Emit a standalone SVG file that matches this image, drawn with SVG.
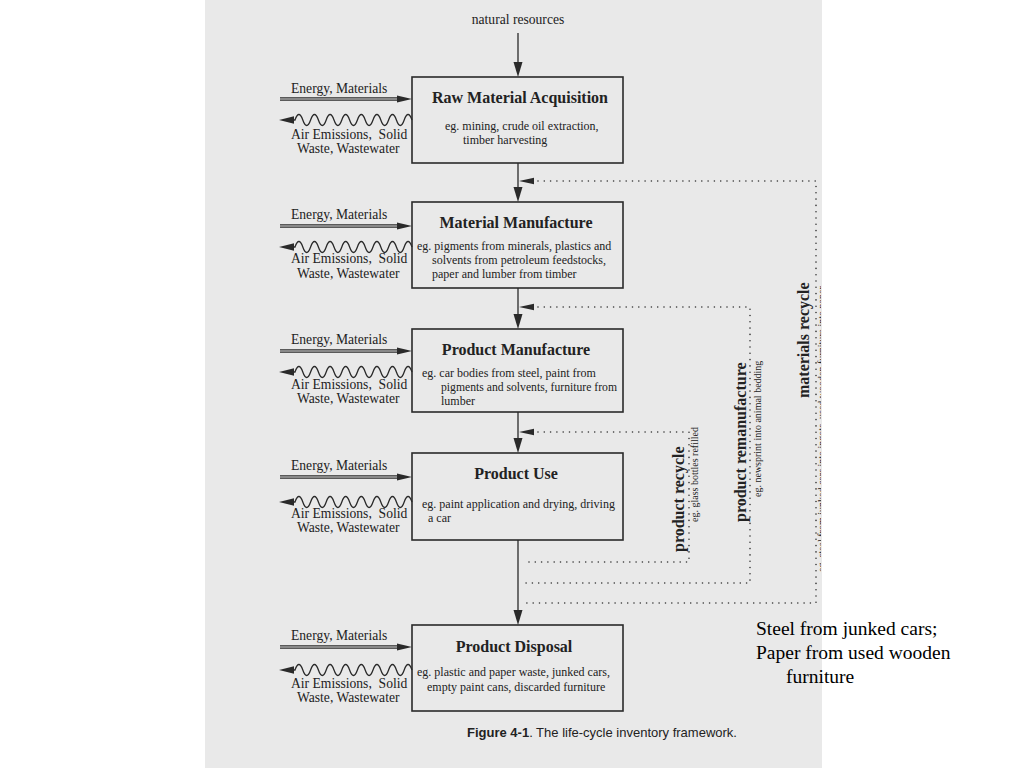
<svg xmlns="http://www.w3.org/2000/svg" width="1024" height="768" viewBox="0 0 1024 768">
<style>
.t{font-family:"Liberation Serif","Times New Roman",serif;fill:#222}
.lab{font-size:13.6px}
.ttl{font-size:16px;font-weight:bold;text-anchor:middle}
.sub{font-size:12px}
.vt{font-size:16px;font-weight:bold}
.vs{font-size:10px}
.box{fill:none;stroke:#2a2a2a;stroke-width:1.6}
.ln{stroke:#2a2a2a;stroke-width:1.3;fill:none}
.dt{stroke:#333;stroke-width:1.6;stroke-linecap:round;stroke-dasharray:0 6.3;fill:none}
.ah{fill:#2a2a2a}
.cap{font-family:"Liberation Sans",Arial,sans-serif;font-size:13px;fill:#222}
.note{font-family:"Liberation Serif","Times New Roman",serif;font-size:19.5px;fill:#000}
</style>
<defs>
<g id="feed">
<line x1="-132" y1="-1.2" x2="-12" y2="-1.2" class="ln" stroke-width="1.1"/>
<line x1="-132" y1="1.2" x2="-12" y2="1.2" class="ln" stroke-width="1.1"/>
<polygon points="0,0 -15,-3.6 -15,3.6" class="ah"/>
</g>
<g id="emit">
<path class="ln" d="M0 0 q-3.9 -11 -7.8 0 t-7.8 0 t-7.8 0 t-7.8 0 t-7.8 0 t-7.8 0 t-7.8 0 t-7.8 0 t-7.8 0 t-7.8 0 t-7.8 0 t-7.8 0 t-7.8 0 t-7.8 0 t-7.8 0 L-125 0"/>
<polygon points="-133,0 -118,-3.8 -118,3.8" class="ah"/>
</g>
<polygon id="dn" points="0,0 -4.5,-15 4.5,-15" class="ah"/>
<polygon id="lf" points="0,0 15,-3.3 15,3.3" class="ah"/>
<clipPath id="pg"><rect x="205" y="0" width="616" height="768"/></clipPath>
</defs>
<rect x="0" y="0" width="1024" height="768" fill="#ffffff"/>
<rect x="205" y="0" width="617" height="768" fill="#e9e9e9"/>

<g id="connectors">
<line class="ln" x1="518" y1="33" x2="518" y2="70"/>
<line class="ln" x1="518" y1="163" x2="518" y2="195"/>
<line class="ln" x1="518" y1="288" x2="518" y2="322"/>
<line class="ln" x1="518" y1="412" x2="518" y2="446"/>
<line class="ln" x1="518" y1="540" x2="518" y2="618"/>
<use href="#dn" x="518" y="77"/>
<use href="#dn" x="518" y="202"/>
<use href="#dn" x="518" y="329"/>
<use href="#dn" x="518" y="453"/>
<use href="#dn" x="518" y="625"/>
<path class="dt" d="M538 181 H816 V603 H524"/>
<path class="dt" d="M538 307 H750 V583 H524"/>
<path class="dt" d="M538 432 H689 V562 H524"/>
<use href="#lf" x="519" y="181"/>
<use href="#lf" x="519" y="307"/>
<use href="#lf" x="519" y="432"/>
<use href="#feed" x="412" y="99"/>
<use href="#emit" x="412" y="120"/>
<use href="#feed" x="412" y="226"/>
<use href="#emit" x="412" y="247"/>
<use href="#feed" x="412" y="351"/>
<use href="#emit" x="412" y="372"/>
<use href="#feed" x="412" y="477"/>
<use href="#emit" x="412" y="502"/>
<use href="#feed" x="412" y="647"/>
<use href="#emit" x="412" y="670"/>
</g>

<g id="natural-resources">
<text class="t lab" x="518" y="24" text-anchor="middle">natural resources</text>
</g>

<g id="raw-material-acquisition">
<rect class="box" x="412" y="77" width="211" height="86"/>
<text class="t ttl" x="520" y="103">Raw Material Acquisition</text>
<text class="t sub" x="445" y="130">eg. mining, crude oil extraction,</text>
<text class="t sub" x="463" y="144">timber harvesting</text>
<text class="t lab" x="291" y="93">Energy, Materials</text>
<text class="t lab" x="291" y="139" xml:space="preserve">Air Emissions,  Solid</text>
<text class="t lab" x="297" y="153">Waste, Wastewater</text>
</g>

<g id="material-manufacture">
<rect class="box" x="412" y="202" width="211" height="86"/>
<text class="t ttl" x="516" y="228">Material Manufacture</text>
<text class="t sub" x="417" y="250">eg. pigments from minerals, plastics and</text>
<text class="t sub" x="432" y="264">solvents from petroleum feedstocks,</text>
<text class="t sub" x="432" y="278">paper and lumber from timber</text>
<text class="t lab" x="291" y="219">Energy, Materials</text>
<text class="t lab" x="291" y="263" xml:space="preserve">Air Emissions,  Solid</text>
<text class="t lab" x="297" y="278">Waste, Wastewater</text>
</g>

<g id="product-manufacture">
<rect class="box" x="412" y="329" width="211" height="83"/>
<text class="t ttl" x="516" y="355">Product Manufacture</text>
<text class="t sub" x="422" y="377">eg. car bodies from steel, paint from</text>
<text class="t sub" x="441" y="391" textLength="176" lengthAdjust="spacingAndGlyphs">pigments and solvents, furniture from</text>
<text class="t sub" x="441" y="405">lumber</text>
<text class="t lab" x="291" y="344">Energy, Materials</text>
<text class="t lab" x="291" y="389" xml:space="preserve">Air Emissions,  Solid</text>
<text class="t lab" x="297" y="403">Waste, Wastewater</text>
</g>

<g id="product-use">
<rect class="box" x="412" y="453" width="211" height="87"/>
<text class="t ttl" x="516" y="479">Product Use</text>
<text class="t sub" x="422" y="508">eg. paint application and drying, driving</text>
<text class="t sub" x="428" y="522">a car</text>
<text class="t lab" x="291" y="470">Energy, Materials</text>
<text class="t lab" x="291" y="518" xml:space="preserve">Air Emissions,  Solid</text>
<text class="t lab" x="297" y="532">Waste, Wastewater</text>
</g>

<g id="product-disposal">
<rect class="box" x="412" y="625" width="211" height="86"/>
<text class="t ttl" x="514" y="652">Product Disposal</text>
<text class="t sub" x="417" y="676">eg. plastic and paper waste, junked cars,</text>
<text class="t sub" x="427" y="691">empty paint cans, discarded furniture</text>
<text class="t lab" x="291" y="640">Energy, Materials</text>
<text class="t lab" x="291" y="688" xml:space="preserve">Air Emissions,  Solid</text>
<text class="t lab" x="297" y="702">Waste, Wastewater</text>
</g>

<g id="product-recycle">
<text class="t vt" font-size="17.5" transform="translate(684 552) rotate(-90)">product recycle</text>
<text class="t vs" transform="translate(698 522) rotate(-90)">eg. glass bottles refilled</text>
</g>
<g id="product-remanufacture">
<text class="t vt" font-size="16.6" transform="translate(746 522) rotate(-90)">product remanufacture</text>
<text class="t vs" transform="translate(761 497) rotate(-90)">eg. newsprint into animal bedding</text>
</g>
<g id="materials-recycle">
<text class="t vt" transform="translate(809 398) rotate(-90)">materials recycle</text>
<g clip-path="url(#pg)">
<text class="t vs" transform="translate(825 572) rotate(-90)">eg. steel from junked cars into ingots, used wooden furniture into paper</text>
</g>
</g>

<g id="caption">
<text class="cap" x="467" y="737"><tspan font-weight="bold">Figure 4-1</tspan>.  The life-cycle inventory framework.</text>
</g>

<g id="note">
<text class="note" x="756" y="635">Steel from junked cars;</text>
<text class="note" x="756" y="659">Paper from used wooden</text>
<text class="note" x="786" y="683">furniture</text>
</g>
</svg>
